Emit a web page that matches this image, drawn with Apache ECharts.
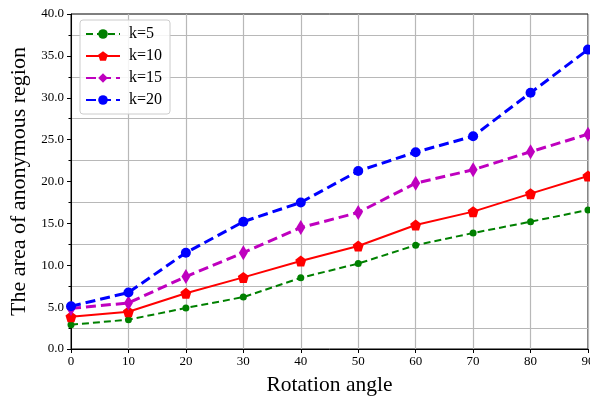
<!DOCTYPE html>
<html><head><meta charset="utf-8">
<script src="https://cdn.jsdelivr.net/npm/echarts@6/dist/echarts.min.js"></script>
<style>html,body{margin:0;padding:0;background:#fff}#c{width:590px;height:398px}</style>
</head><body><div id="c"></div>
<script>
const angles = [0, 10, 20, 30, 40, 50, 60, 70, 80, 90];
const k5  = [2.9, 3.5, 4.9, 6.2, 8.5, 10.2, 12.4, 13.85, 15.2, 16.6];
const k10 = [3.85, 4.45, 6.65, 8.55, 10.5, 12.3, 14.8, 16.4, 18.55, 20.65];
const k15 = [4.85, 5.5, 8.65, 11.5, 14.5, 16.3, 19.8, 21.4, 23.55, 25.65];
const k20 = [5.1, 6.75, 11.5, 15.2, 17.5, 21.25, 23.5, 25.4, 30.6, 35.75];
const seriesNames = ['k=5', 'k=10', 'k=15', 'k=20'];
const xLabel = 'Rotation angle';
const yLabel = 'The area of anonymous region';

const font = 'Liberation Serif';
const pentagon = 'path://M0,-1 L0.951,-0.309 L0.588,0.809 L-0.588,0.809 L-0.951,-0.309 Z';
function pts(arr){ return arr.map((v,i)=>[angles[i], v]); }

const chart = echarts.init(document.getElementById('c'), null, {renderer:'canvas'});
chart.setOption({
  animation: false,
  textStyle: {fontFamily: font},
  grid: {left: 71, right: 2, top: 14, bottom: 49, containLabel: false, outerBoundsMode: 'none',
         show: true, borderColor: '#000', borderWidth: 1, backgroundColor: 'transparent'},
  legend: {
    orient: 'vertical', left: 80, top: 20,
    data: seriesNames,
    itemWidth: 34, itemHeight: 12, itemGap: 6,
    padding: [6, 8, 6, 5],
    borderColor: '#cccccc', borderWidth: 1, borderRadius: 3,
    backgroundColor: 'rgba(255,255,255,0.85)',
    textStyle: {fontFamily: font, fontSize: 16, color: '#000', padding: [0, 0, 0, 4]}
  },
  xAxis: {
    type: 'value', min: 0, max: 90, interval: 10,
    name: xLabel, nameLocation: 'middle', nameGap: 25,
    nameTextStyle: {fontFamily: font, fontSize: 21.5, color: '#000'},
    axisLine: {show: true, onZero: false, lineStyle: {color: '#000', width: 1}},
    axisTick: {show: true, length: 4, lineStyle: {color: '#000'}},
    axisLabel: {fontFamily: font, fontSize: 13, color: '#000', margin: 6},
    splitLine: {show: true, lineStyle: {color: '#b8b8b8', width: 1.2}}
  },
  yAxis: {
    type: 'value', min: 0, max: 40, interval: 5,
    name: yLabel, nameLocation: 'middle', nameGap: 36,
    nameTextStyle: {fontFamily: font, fontSize: 22, color: '#000'},
    axisLine: {show: true, onZero: false, lineStyle: {color: '#000', width: 1}},
    axisTick: {show: true, length: 4, lineStyle: {color: '#000'}},
    minorTick: {show: true, splitNumber: 2, length: 2.5, lineStyle: {color: '#000'}},
    axisLabel: {fontFamily: font, fontSize: 13, color: '#000', margin: 7, formatter: v => v.toFixed(1)},
    splitLine: {show: false},
    minorSplitLine: {show: true, lineStyle: {color: '#b8b8b8', width: 1.2}}
  },
  series: [
    {name: seriesNames[0], type: 'line', data: pts(k5), symbol: 'circle', symbolSize: 7,
     lineStyle: {color: '#008000', width: 2, type: [7, 4]}, itemStyle: {color: '#008000'}, z: 2},
    {name: seriesNames[1], type: 'line', data: pts(k10), symbol: pentagon, symbolSize: 11,
     lineStyle: {color: '#ff0000', width: 2, type: 'solid'}, itemStyle: {color: '#ff0000'}, z: 3},
    {name: seriesNames[2], type: 'line', data: pts(k15), symbol: 'diamond', symbolSize: [9, 15],
     lineStyle: {color: '#bf00bf', width: 3, type: [10, 5]}, itemStyle: {color: '#bf00bf'}, z: 4},
    {name: seriesNames[3], type: 'line', data: pts(k20), symbol: 'circle', symbolSize: 10,
     lineStyle: {color: '#0000ff', width: 3, type: [10, 5]}, itemStyle: {color: '#0000ff'}, z: 5}
  ]
});
</script></body></html>
